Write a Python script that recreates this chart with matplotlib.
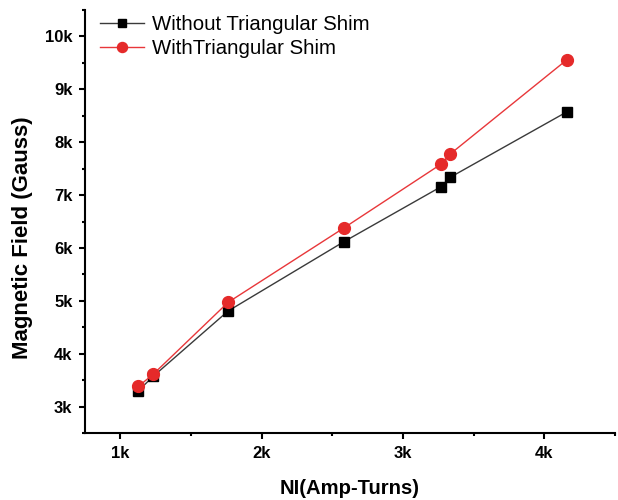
import matplotlib
matplotlib.use("Agg")
import matplotlib.pyplot as plt
from matplotlib.ticker import MultipleLocator, FuncFormatter

# Data
ni = [1128, 1234, 1762, 2580, 3270, 3333, 4161]
without_shim = [3301, 3575, 4806, 6115, 7159, 7334, 8576]
with_shim = [3382, 3615, 4970, 6375, 7586, 7774, 9562]
series_labels = ["Without Triangular Shim", "WithTriangular Shim"]
x_label = "NI(Amp-Turns)"
y_label = "Magnetic Field (Gauss)"

plt.rcParams['font.family'] = ['Liberation Sans', 'DejaVu Sans']

fig = plt.figure(figsize=(6.18, 5.0), dpi=100)
ax = fig.add_axes([85/618, 1 - 433/500, (615 - 85)/618, (433 - 10)/500])

ax.plot(ni, without_shim, color='#3a3a3a', lw=1.0, marker='s', markersize=7,
        markerfacecolor='black', markeredgecolor='black', label=series_labels[0])
ax.plot(ni, with_shim, color='#e8373a', lw=1.0, marker='o', markersize=8.5,
        markerfacecolor='#e52a2a', markeredgecolor='#e52a2a', label=series_labels[1])

ax.set_xlim(750, 4500)
ax.set_ylim(2500, 10500)
ax.xaxis.set_major_locator(MultipleLocator(1000))
ax.xaxis.set_minor_locator(MultipleLocator(500))
ax.yaxis.set_major_locator(MultipleLocator(1000))
ax.yaxis.set_minor_locator(MultipleLocator(500))
fmt = FuncFormatter(lambda v, p: f"{int(round(v/1000))}k")
ax.xaxis.set_major_formatter(fmt)
ax.yaxis.set_major_formatter(fmt)

for s in ['top', 'right']:
    ax.spines[s].set_visible(False)
for s in ['left', 'bottom']:
    ax.spines[s].set_linewidth(1.5)

ax.tick_params(which='major', direction='out', length=4, width=1.5, labelsize=12, pad=5)
ax.tick_params(which='minor', direction='out', length=2.5, width=1.5)
for lab in ax.get_xticklabels() + ax.get_yticklabels():
    lab.set_fontweight('bold')

ax.set_xlabel(x_label, fontsize=14.6, fontweight='bold', labelpad=13.5)
ax.set_ylabel(y_label, fontsize=16, fontweight='bold')
ax.yaxis.set_label_coords(-0.098, 0.461)

leg = ax.legend(loc='upper left', bbox_to_anchor=(0.012, 1.008), frameon=False,
                fontsize=14.7, handlelength=2.2, handletextpad=0.35,
                labelspacing=0.25, borderaxespad=0.0, markerscale=0.85)

fig.savefig("out.png", dpi=100)
